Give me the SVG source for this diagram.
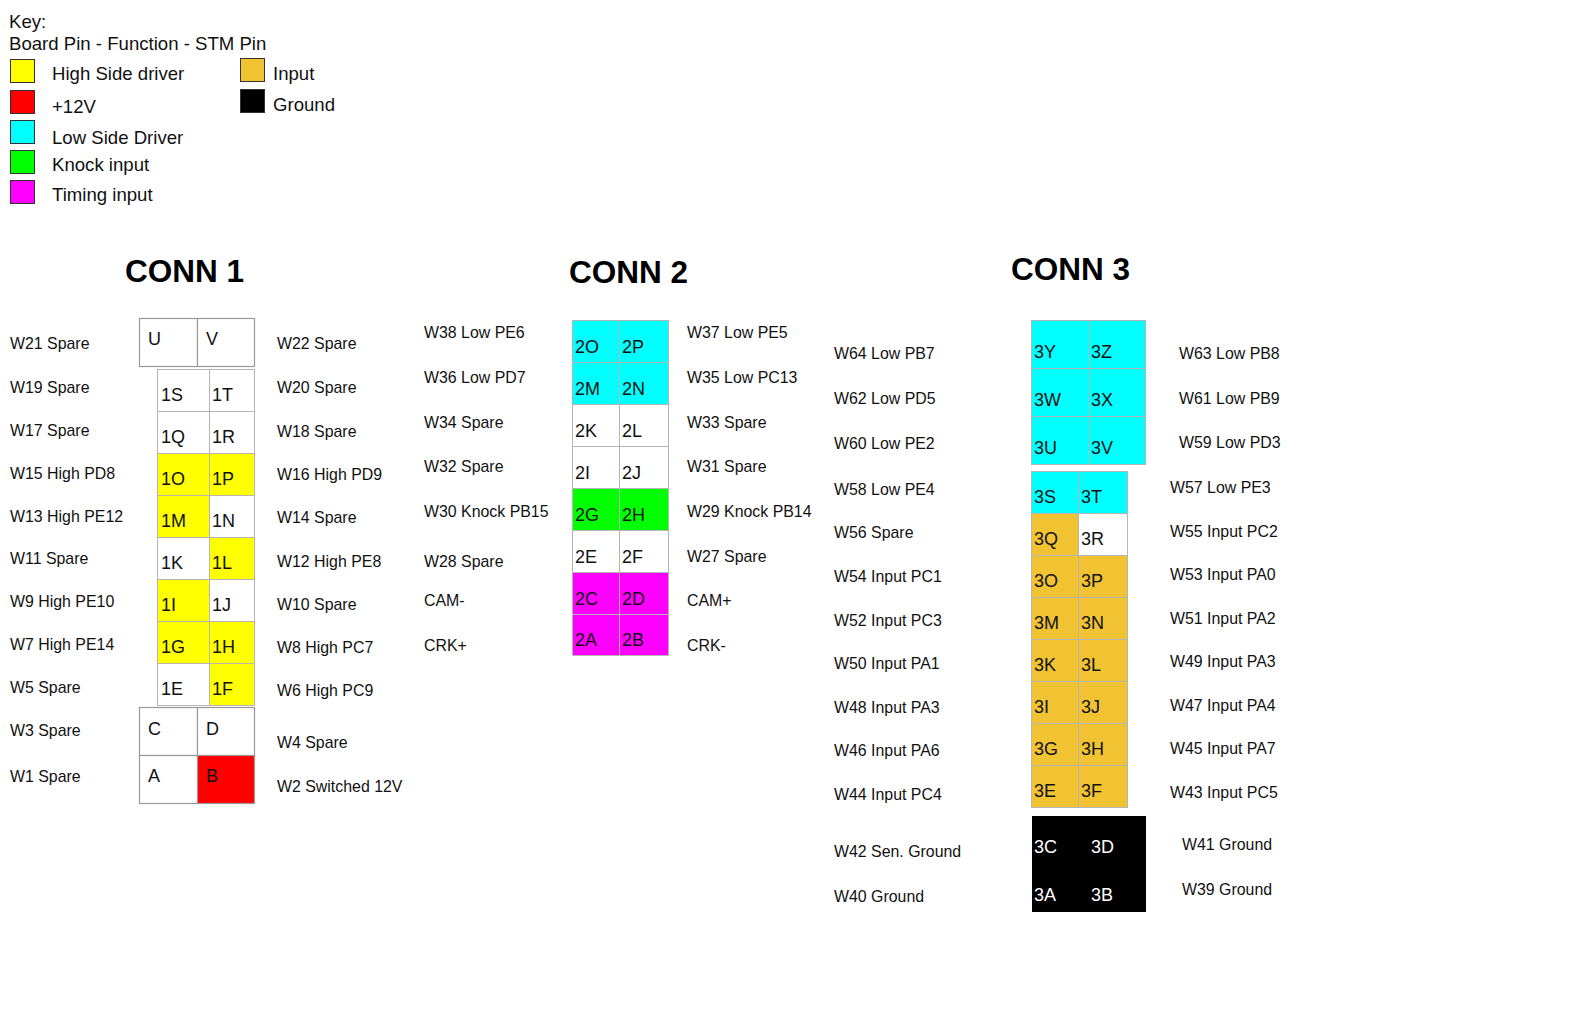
<svg xmlns="http://www.w3.org/2000/svg" width="1570" height="1017" viewBox="0 0 1570 1017">
  <style>
    text { font-family: "Liberation Sans", Arial, sans-serif; fill: #111; }
    .key { font-size: 18.6px; }
    .lbl { font-size: 15.9px; }
    .pin { font-size: 18px; }
    .wpin { font-size: 18px; fill: #fff; }
    .hd { font-size: 31.5px; font-weight: bold; fill: #000; }
    .sw { stroke: #333; stroke-width: 1; }
    .cell { stroke: #b5b5b5; stroke-width: 1; }
    .box { stroke: #999; stroke-width: 1.2; }
    .w { fill: #fff; }
    .hs { fill: #ffff00; }
    .v12 { fill: #ff0000; }
    .ls { fill: #00ffff; }
    .kn { fill: #00ff00; }
    .tm { fill: #ff00ff; }
    .in { fill: #f1c232; }
    .gnd { fill: #000; }
  </style>

  <rect width="1570" height="1017" fill="#fff"/>

  <!-- Key -->
  <g id="legend">
    <text class="key" x="9" y="28">Key:</text>
    <text class="key" x="9" y="50">Board Pin - Function - STM Pin</text>
    <rect class="sw hs" x="10.5" y="59.5" width="24" height="23"/>
    <text class="key" x="52" y="80">High Side driver</text>
    <rect class="sw v12" x="10.5" y="90.5" width="24" height="23"/>
    <text class="key" x="52" y="113">+12V</text>
    <rect class="sw ls" x="10.5" y="120.5" width="24" height="23"/>
    <text class="key" x="52" y="144">Low Side Driver</text>
    <rect class="sw kn" x="10.5" y="150.5" width="24" height="23"/>
    <text class="key" x="52" y="171">Knock input</text>
    <rect class="sw tm" x="10.5" y="180.5" width="24" height="23"/>
    <text class="key" x="52" y="201">Timing input</text>
    <rect class="sw in" x="240.5" y="58.5" width="24" height="23"/>
    <text class="key" x="273" y="80">Input</text>
    <rect class="sw gnd" x="240.5" y="89.5" width="24" height="23"/>
    <text class="key" x="273" y="111">Ground</text>
  </g>

  <!-- Headings -->
  <text class="hd" x="125" y="282">CONN 1</text>
  <text class="hd" x="569" y="283">CONN 2</text>
  <text class="hd" x="1011" y="280">CONN 3</text>

  <!-- CONN 1 pins -->
  <g id="conn1">
    <g id="p1U"><rect class="box w" x="139.5" y="318.5" width="58" height="48"/><text class="pin" x="148" y="345">U</text></g>
    <g id="p1V"><rect class="box w" x="197.5" y="318.5" width="57" height="48"/><text class="pin" x="206" y="345">V</text></g>

    <g id="p1S"><rect class="cell w" x="157.5" y="369.5" width="52" height="42"/><text class="pin" x="161" y="401">1S</text></g>
    <g id="p1T"><rect class="cell w" x="209.5" y="369.5" width="45" height="42"/><text class="pin" x="212" y="401">1T</text></g>
    <g id="p1Q"><rect class="cell w" x="157.5" y="411.5" width="52" height="42"/><text class="pin" x="161" y="443">1Q</text></g>
    <g id="p1R"><rect class="cell w" x="209.5" y="411.5" width="45" height="42"/><text class="pin" x="212" y="443">1R</text></g>
    <g id="p1O"><rect class="cell hs" x="157.5" y="453.5" width="52" height="42"/><text class="pin" x="161" y="485">1O</text></g>
    <g id="p1P"><rect class="cell hs" x="209.5" y="453.5" width="45" height="42"/><text class="pin" x="212" y="485">1P</text></g>
    <g id="p1M"><rect class="cell hs" x="157.5" y="495.5" width="52" height="42"/><text class="pin" x="161" y="527">1M</text></g>
    <g id="p1N"><rect class="cell w" x="209.5" y="495.5" width="45" height="42"/><text class="pin" x="212" y="527">1N</text></g>
    <g id="p1K"><rect class="cell w" x="157.5" y="537.5" width="52" height="42"/><text class="pin" x="161" y="569">1K</text></g>
    <g id="p1L"><rect class="cell hs" x="209.5" y="537.5" width="45" height="42"/><text class="pin" x="212" y="569">1L</text></g>
    <g id="p1I"><rect class="cell hs" x="157.5" y="579.5" width="52" height="42"/><text class="pin" x="161" y="611">1I</text></g>
    <g id="p1J"><rect class="cell w" x="209.5" y="579.5" width="45" height="42"/><text class="pin" x="212" y="611">1J</text></g>
    <g id="p1G"><rect class="cell hs" x="157.5" y="621.5" width="52" height="42"/><text class="pin" x="161" y="653">1G</text></g>
    <g id="p1H"><rect class="cell hs" x="209.5" y="621.5" width="45" height="42"/><text class="pin" x="212" y="653">1H</text></g>
    <g id="p1E"><rect class="cell w" x="157.5" y="663.5" width="52" height="42"/><text class="pin" x="161" y="695">1E</text></g>
    <g id="p1F"><rect class="cell hs" x="209.5" y="663.5" width="45" height="42"/><text class="pin" x="212" y="695">1F</text></g>

    <g id="p1C"><rect class="box w" x="139.5" y="707.5" width="58" height="48"/><text class="pin" x="148" y="735">C</text></g>
    <g id="p1D"><rect class="box w" x="197.5" y="707.5" width="57" height="48"/><text class="pin" x="206" y="735">D</text></g>
    <g id="p1A"><rect class="box w" x="139.5" y="755.5" width="58" height="48"/><text class="pin" x="148" y="782">A</text></g>
    <g id="p1B"><rect class="box v12" x="197.5" y="755.5" width="57" height="48"/><text class="pin" x="206" y="782">B</text></g>
  </g>

  <!-- CONN 1 wire labels -->
  <g id="conn1-labels">
    <text class="lbl" x="10" y="349">W21 Spare</text>
    <text class="lbl" x="10" y="393">W19 Spare</text>
    <text class="lbl" x="10" y="436">W17 Spare</text>
    <text class="lbl" x="10" y="479">W15 High PD8</text>
    <text class="lbl" x="10" y="522">W13 High PE12</text>
    <text class="lbl" x="10" y="564">W11 Spare</text>
    <text class="lbl" x="10" y="607">W9 High PE10</text>
    <text class="lbl" x="10" y="650">W7 High PE14</text>
    <text class="lbl" x="10" y="693">W5 Spare</text>
    <text class="lbl" x="10" y="736">W3 Spare</text>
    <text class="lbl" x="10" y="782">W1 Spare</text>

    <text class="lbl" x="277" y="349">W22 Spare</text>
    <text class="lbl" x="277" y="393">W20 Spare</text>
    <text class="lbl" x="277" y="437">W18 Spare</text>
    <text class="lbl" x="277" y="480">W16 High PD9</text>
    <text class="lbl" x="277" y="523">W14 Spare</text>
    <text class="lbl" x="277" y="567">W12 High PE8</text>
    <text class="lbl" x="277" y="610">W10 Spare</text>
    <text class="lbl" x="277" y="653">W8 High PC7</text>
    <text class="lbl" x="277" y="696">W6 High PC9</text>
    <text class="lbl" x="277" y="748">W4 Spare</text>
    <text class="lbl" x="277" y="792">W2 Switched 12V</text>
  </g>

  <!-- CONN 2 pins -->
  <g id="conn2">
    <g id="p2O"><rect class="cell ls" x="572.5" y="320.5" width="47" height="42"/><text class="pin" x="575" y="353">2O</text></g>
    <g id="p2P"><rect class="cell ls" x="619.5" y="320.5" width="49" height="42"/><text class="pin" x="622" y="353">2P</text></g>
    <g id="p2M"><rect class="cell ls" x="572.5" y="362.5" width="47" height="42"/><text class="pin" x="575" y="395">2M</text></g>
    <g id="p2N"><rect class="cell ls" x="619.5" y="362.5" width="49" height="42"/><text class="pin" x="622" y="395">2N</text></g>
    <g id="p2K"><rect class="cell w" x="572.5" y="404.5" width="47" height="42"/><text class="pin" x="575" y="437">2K</text></g>
    <g id="p2L"><rect class="cell w" x="619.5" y="404.5" width="49" height="42"/><text class="pin" x="622" y="437">2L</text></g>
    <g id="p2I"><rect class="cell w" x="572.5" y="446.5" width="47" height="42"/><text class="pin" x="575" y="479">2I</text></g>
    <g id="p2J"><rect class="cell w" x="619.5" y="446.5" width="49" height="42"/><text class="pin" x="622" y="479">2J</text></g>
    <g id="p2G"><rect class="cell kn" x="572.5" y="488.5" width="47" height="42"/><text class="pin" x="575" y="521">2G</text></g>
    <g id="p2H"><rect class="cell kn" x="619.5" y="488.5" width="49" height="42"/><text class="pin" x="622" y="521">2H</text></g>
    <g id="p2E"><rect class="cell w" x="572.5" y="530.5" width="47" height="42"/><text class="pin" x="575" y="563">2E</text></g>
    <g id="p2F"><rect class="cell w" x="619.5" y="530.5" width="49" height="42"/><text class="pin" x="622" y="563">2F</text></g>
    <g id="p2C"><rect class="cell tm" x="572.5" y="572.5" width="47" height="42"/><text class="pin" x="575" y="605">2C</text></g>
    <g id="p2D"><rect class="cell tm" x="619.5" y="572.5" width="49" height="42"/><text class="pin" x="622" y="605">2D</text></g>
    <g id="p2A"><rect class="cell tm" x="572.5" y="614.5" width="47" height="41"/><text class="pin" x="575" y="646">2A</text></g>
    <g id="p2B"><rect class="cell tm" x="619.5" y="614.5" width="49" height="41"/><text class="pin" x="622" y="646">2B</text></g>
  </g>

  <!-- CONN 2 wire labels -->
  <g id="conn2-labels">
    <text class="lbl" x="424" y="338">W38 Low PE6</text>
    <text class="lbl" x="424" y="383">W36 Low PD7</text>
    <text class="lbl" x="424" y="428">W34 Spare</text>
    <text class="lbl" x="424" y="472">W32 Spare</text>
    <text class="lbl" x="424" y="517">W30 Knock PB15</text>
    <text class="lbl" x="424" y="567">W28 Spare</text>
    <text class="lbl" x="424" y="606">CAM-</text>
    <text class="lbl" x="424" y="651">CRK+</text>

    <text class="lbl" x="687" y="338">W37 Low PE5</text>
    <text class="lbl" x="687" y="383">W35 Low PC13</text>
    <text class="lbl" x="687" y="428">W33 Spare</text>
    <text class="lbl" x="687" y="472">W31 Spare</text>
    <text class="lbl" x="687" y="517">W29 Knock PB14</text>
    <text class="lbl" x="687" y="562">W27 Spare</text>
    <text class="lbl" x="687" y="606">CAM+</text>
    <text class="lbl" x="687" y="651">CRK-</text>
  </g>

  <!-- CONN 3 pins -->
  <g id="conn3">
    <g id="p3Y"><rect class="cell ls" x="1031.5" y="320.5" width="57" height="48"/><text class="pin" x="1034" y="358">3Y</text></g>
    <g id="p3Z"><rect class="cell ls" x="1088.5" y="320.5" width="57" height="48"/><text class="pin" x="1091" y="358">3Z</text></g>
    <g id="p3W"><rect class="cell ls" x="1031.5" y="368.5" width="57" height="48"/><text class="pin" x="1034" y="406">3W</text></g>
    <g id="p3X"><rect class="cell ls" x="1088.5" y="368.5" width="57" height="48"/><text class="pin" x="1091" y="406">3X</text></g>
    <g id="p3U"><rect class="cell ls" x="1031.5" y="416.5" width="57" height="48"/><text class="pin" x="1034" y="454">3U</text></g>
    <g id="p3V"><rect class="cell ls" x="1088.5" y="416.5" width="57" height="48"/><text class="pin" x="1091" y="454">3V</text></g>

    <g id="p3S"><rect class="cell ls" x="1031.5" y="471.5" width="47" height="42"/><text class="pin" x="1034" y="503">3S</text></g>
    <g id="p3T"><rect class="cell ls" x="1078.5" y="471.5" width="49" height="42"/><text class="pin" x="1081" y="503">3T</text></g>
    <g id="p3Q"><rect class="cell in" x="1031.5" y="513.5" width="47" height="42"/><text class="pin" x="1034" y="545">3Q</text></g>
    <g id="p3R"><rect class="cell w" x="1078.5" y="513.5" width="49" height="42"/><text class="pin" x="1081" y="545">3R</text></g>
    <g id="p3O"><rect class="cell in" x="1031.5" y="555.5" width="47" height="42"/><text class="pin" x="1034" y="587">3O</text></g>
    <g id="p3P"><rect class="cell in" x="1078.5" y="555.5" width="49" height="42"/><text class="pin" x="1081" y="587">3P</text></g>
    <g id="p3M"><rect class="cell in" x="1031.5" y="597.5" width="47" height="42"/><text class="pin" x="1034" y="629">3M</text></g>
    <g id="p3N"><rect class="cell in" x="1078.5" y="597.5" width="49" height="42"/><text class="pin" x="1081" y="629">3N</text></g>
    <g id="p3K"><rect class="cell in" x="1031.5" y="639.5" width="47" height="42"/><text class="pin" x="1034" y="671">3K</text></g>
    <g id="p3L"><rect class="cell in" x="1078.5" y="639.5" width="49" height="42"/><text class="pin" x="1081" y="671">3L</text></g>
    <g id="p3I"><rect class="cell in" x="1031.5" y="681.5" width="47" height="42"/><text class="pin" x="1034" y="713">3I</text></g>
    <g id="p3J"><rect class="cell in" x="1078.5" y="681.5" width="49" height="42"/><text class="pin" x="1081" y="713">3J</text></g>
    <g id="p3G"><rect class="cell in" x="1031.5" y="723.5" width="47" height="42"/><text class="pin" x="1034" y="755">3G</text></g>
    <g id="p3H"><rect class="cell in" x="1078.5" y="723.5" width="49" height="42"/><text class="pin" x="1081" y="755">3H</text></g>
    <g id="p3E"><rect class="cell in" x="1031.5" y="765.5" width="47" height="42"/><text class="pin" x="1034" y="797">3E</text></g>
    <g id="p3F"><rect class="cell in" x="1078.5" y="765.5" width="49" height="42"/><text class="pin" x="1081" y="797">3F</text></g>

    <rect class="gnd" x="1032" y="816" width="114" height="96"/>
    <g id="p3C"><text class="wpin" x="1034" y="853">3C</text></g>
    <g id="p3D"><text class="wpin" x="1091" y="853">3D</text></g>
    <g id="p3A"><text class="wpin" x="1034" y="901">3A</text></g>
    <g id="p3B"><text class="wpin" x="1091" y="901">3B</text></g>
  </g>

  <!-- CONN 3 wire labels -->
  <g id="conn3-labels">
    <text class="lbl" x="834" y="359">W64 Low PB7</text>
    <text class="lbl" x="834" y="404">W62 Low PD5</text>
    <text class="lbl" x="834" y="449">W60 Low PE2</text>
    <text class="lbl" x="834" y="495">W58 Low PE4</text>
    <text class="lbl" x="834" y="538">W56 Spare</text>
    <text class="lbl" x="834" y="582">W54 Input PC1</text>
    <text class="lbl" x="834" y="626">W52 Input PC3</text>
    <text class="lbl" x="834" y="669">W50 Input PA1</text>
    <text class="lbl" x="834" y="713">W48 Input PA3</text>
    <text class="lbl" x="834" y="756">W46 Input PA6</text>
    <text class="lbl" x="834" y="800">W44 Input PC4</text>
    <text class="lbl" x="834" y="857">W42 Sen. Ground</text>
    <text class="lbl" x="834" y="902">W40 Ground</text>

    <text class="lbl" x="1179" y="359">W63 Low PB8</text>
    <text class="lbl" x="1179" y="404">W61 Low PB9</text>
    <text class="lbl" x="1179" y="448">W59 Low PD3</text>
    <text class="lbl" x="1170" y="493">W57 Low PE3</text>
    <text class="lbl" x="1170" y="537">W55 Input PC2</text>
    <text class="lbl" x="1170" y="580">W53 Input PA0</text>
    <text class="lbl" x="1170" y="624">W51 Input PA2</text>
    <text class="lbl" x="1170" y="667">W49 Input PA3</text>
    <text class="lbl" x="1170" y="711">W47 Input PA4</text>
    <text class="lbl" x="1170" y="754">W45 Input PA7</text>
    <text class="lbl" x="1170" y="798">W43 Input PC5</text>
    <text class="lbl" x="1182" y="850">W41 Ground</text>
    <text class="lbl" x="1182" y="895">W39 Ground</text>
  </g>

  <!-- no connectors in this pin-out chart -->
  <g id="connectors"/>
</svg>
